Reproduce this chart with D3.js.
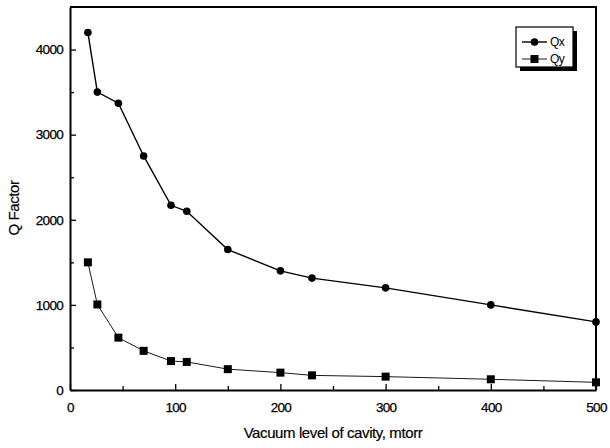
<!DOCTYPE html>
<html>
<head>
<meta charset="utf-8">
<script src="https://d3js.org/d3.v7.min.js"></script>
<style>
  html, body { margin: 0; padding: 0; background: #fff; }
  svg { display: block; font-family: "Liberation Sans", Arial, sans-serif; }
  .tick text { font-size: 13.5px; letter-spacing: -0.7px; fill: #000; stroke: #000; stroke-width: 0.25px; }
  .axis-title { font-size: 15px; letter-spacing: -0.4px; fill: #000; stroke: #000; stroke-width: 0.2px; }
</style>
</head>
<body>
<div id="chart"></div>
<script>
// vacuum level (mtorr) for each measurement
var pressure = [17, 26, 46, 70, 96, 111, 150, 200, 230, 300, 400, 500];
// Q factor along x and y
var qx = [4200, 3500, 3370, 2750, 2170, 2100, 1650, 1400, 1315, 1200, 1000, 800];
var qy = [1500, 1005, 615, 460, 340, 330, 245, 204, 172, 157, 126, 90];

var xTicks = [0, 100, 200, 300, 400, 500];
var xMinor = [50, 150, 250, 350, 450];
var yTicks = [0, 1000, 2000, 3000, 4000];
var yMinor = [500, 1500, 2500, 3500];
var seriesNames = ['Qx', 'Qy'];

var W = 610, H = 448;
var margin = {top: 7, right: 14, bottom: 58, left: 70};
var width = W - margin.left - margin.right,
    height = H - margin.top - margin.bottom;

var svg = d3.select('#chart').append('svg')
    .attr('width', W)
    .attr('height', H);

var g = svg.append('g')
    .attr('transform', 'translate(' + margin.left + ',' + margin.top + ')');

var x = d3.scaleLinear().domain([0, 500]).range([0, width]);
var y = d3.scaleLinear().domain([0, 4500]).range([height, 0]);

// minor ticks first so the major axis sits on top
g.append('g')
    .attr('transform', 'translate(0,' + height + ')')
    .call(d3.axisBottom(x).tickValues(xMinor).tickSize(-4).tickFormat(''))
    .call(function(a) { a.select('.domain').remove(); });
g.append('g')
    .call(d3.axisLeft(y).tickValues(yMinor).tickSize(-4).tickFormat(''))
    .call(function(a) { a.select('.domain').remove(); });

var xAxis = g.append('g')
    .attr('transform', 'translate(0,' + height + ')')
    .call(d3.axisBottom(x).tickValues(xTicks).tickFormat(d3.format('d'))
        .tickSize(-6).tickSizeOuter(0).tickPadding(12));
var yAxis = g.append('g')
    .call(d3.axisLeft(y).tickValues(yTicks).tickFormat(d3.format('d'))
        .tickSize(-6).tickSizeOuter(0).tickPadding(7));

g.selectAll('.tick line').attr('stroke', '#000').attr('stroke-width', 1.3);
g.selectAll('.domain').attr('stroke', '#000').attr('stroke-width', 2);

// frame on top and right
g.append('path')
    .attr('d', 'M0,0H' + width + 'V' + height)
    .attr('fill', 'none')
    .attr('stroke', '#000')
    .attr('stroke-width', 2);

// axis titles
svg.append('text')
    .attr('class', 'axis-title')
    .attr('x', margin.left + width / 2)
    .attr('y', 438)
    .attr('text-anchor', 'middle')
    .text('Vacuum level of cavity, mtorr');
svg.append('text')
    .attr('class', 'axis-title')
    .attr('transform', 'translate(19,' + 208 + ') rotate(-90)')
    .attr('text-anchor', 'middle')
    .text('Q Factor');

var line = d3.line()
    .x(function(d) { return x(d[0]); })
    .y(function(d) { return y(d[1]); });

var qxData = pressure.map(function(p, i) { return [p, qx[i]]; });
var qyData = pressure.map(function(p, i) { return [p, qy[i]]; });

g.append('path')
    .datum(qyData)
    .attr('d', line)
    .attr('fill', 'none')
    .attr('stroke', '#000')
    .attr('stroke-width', 0.9);
g.append('path')
    .datum(qxData)
    .attr('d', line)
    .attr('fill', 'none')
    .attr('stroke', '#000')
    .attr('stroke-width', 1.4);

g.selectAll('circle.qx')
    .data(qxData)
    .enter().append('circle')
    .attr('class', 'qx')
    .attr('cx', function(d) { return x(d[0]); })
    .attr('cy', function(d) { return y(d[1]); })
    .attr('r', 3.8)
    .attr('fill', '#000');

var sq = 8;
g.selectAll('rect.qy')
    .data(qyData)
    .enter().append('rect')
    .attr('class', 'qy')
    .attr('x', function(d) { return x(d[0]) - sq / 2; })
    .attr('y', function(d) { return y(d[1]) - sq / 2; })
    .attr('width', sq)
    .attr('height', sq)
    .attr('fill', '#000');

// legend with drop shadow
var legend = svg.append('g').attr('transform', 'translate(516,27)');
legend.append('rect')
    .attr('x', 4).attr('y', 4)
    .attr('width', 57).attr('height', 40)
    .attr('fill', '#000');
legend.append('rect')
    .attr('width', 57).attr('height', 40)
    .attr('fill', '#fff')
    .attr('stroke', '#000')
    .attr('stroke-width', 1.2);

var rows = legend.selectAll('g.row')
    .data(seriesNames)
    .enter().append('g')
    .attr('class', 'row')
    .attr('transform', function(d, i) { return 'translate(0,' + (15 + i * 17) + ')'; });
rows.append('line')
    .attr('x1', 6).attr('x2', 31)
    .attr('stroke', '#000')
    .attr('stroke-width', function(d, i) { return i === 0 ? 1.4 : 0.9; });
rows.filter(function(d, i) { return i === 0; }).append('circle')
    .attr('cx', 18.5).attr('r', 3.8).attr('fill', '#000');
rows.filter(function(d, i) { return i === 1; }).append('rect')
    .attr('x', 14.5).attr('y', -4).attr('width', 8).attr('height', 8).attr('fill', '#000');
rows.append('text')
    .attr('x', 34)
    .attr('dy', '0.35em')
    .style('font-size', '12px')
    .style('letter-spacing', '-0.6px')
    .style('fill', '#000')
    .text(function(d) { return d; });
</script>
</body>
</html>
